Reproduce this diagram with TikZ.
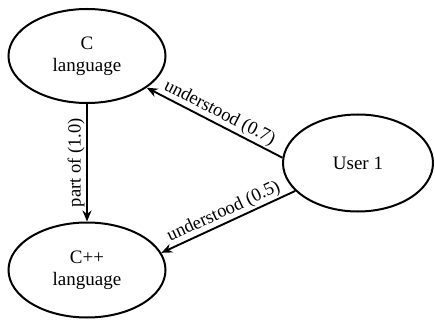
\documentclass[tikz,border=0pt]{standalone}
\usepackage{fontspec}
\setmainfont{Liberation Serif}
\usetikzlibrary{shapes.geometric,arrows.meta}
\begin{document}
\begin{tikzpicture}[x=1pt,y=-1pt,
  concept/.style={ellipse,draw,line width=2pt,inner sep=0pt,align=center,
    font=\fontsize{19}{22}\selectfont},
  rel/.style={line width=1.9pt,-{Stealth[length=11pt,width=9pt]}},
  lbl/.style={font=\fontsize{18.5}{21}\selectfont,inner sep=1.5pt}]
\useasboundingbox (0,0) rectangle (435,320);
\node[concept,minimum width=157pt,minimum height=94pt] (c) at (87,56) {C\\language};
\node[concept,minimum width=157pt,minimum height=95pt] (cpp) at (87,270) {C++\\language};
\node[concept,minimum width=150pt,minimum height=97pt] (u) at (358,163) {User 1};
\draw[rel] (c) -- node[lbl,midway,rotate=90,above] {part of (1.0)} (cpp);
\draw[rel] (u.176) -- node[lbl,midway,sloped,above] {understood (0.7)} (c.-28);
\draw[rel] (u.204) -- node[lbl,midway,sloped,above] {understood (0.5)} (cpp.13);
\end{tikzpicture}
\end{document}
